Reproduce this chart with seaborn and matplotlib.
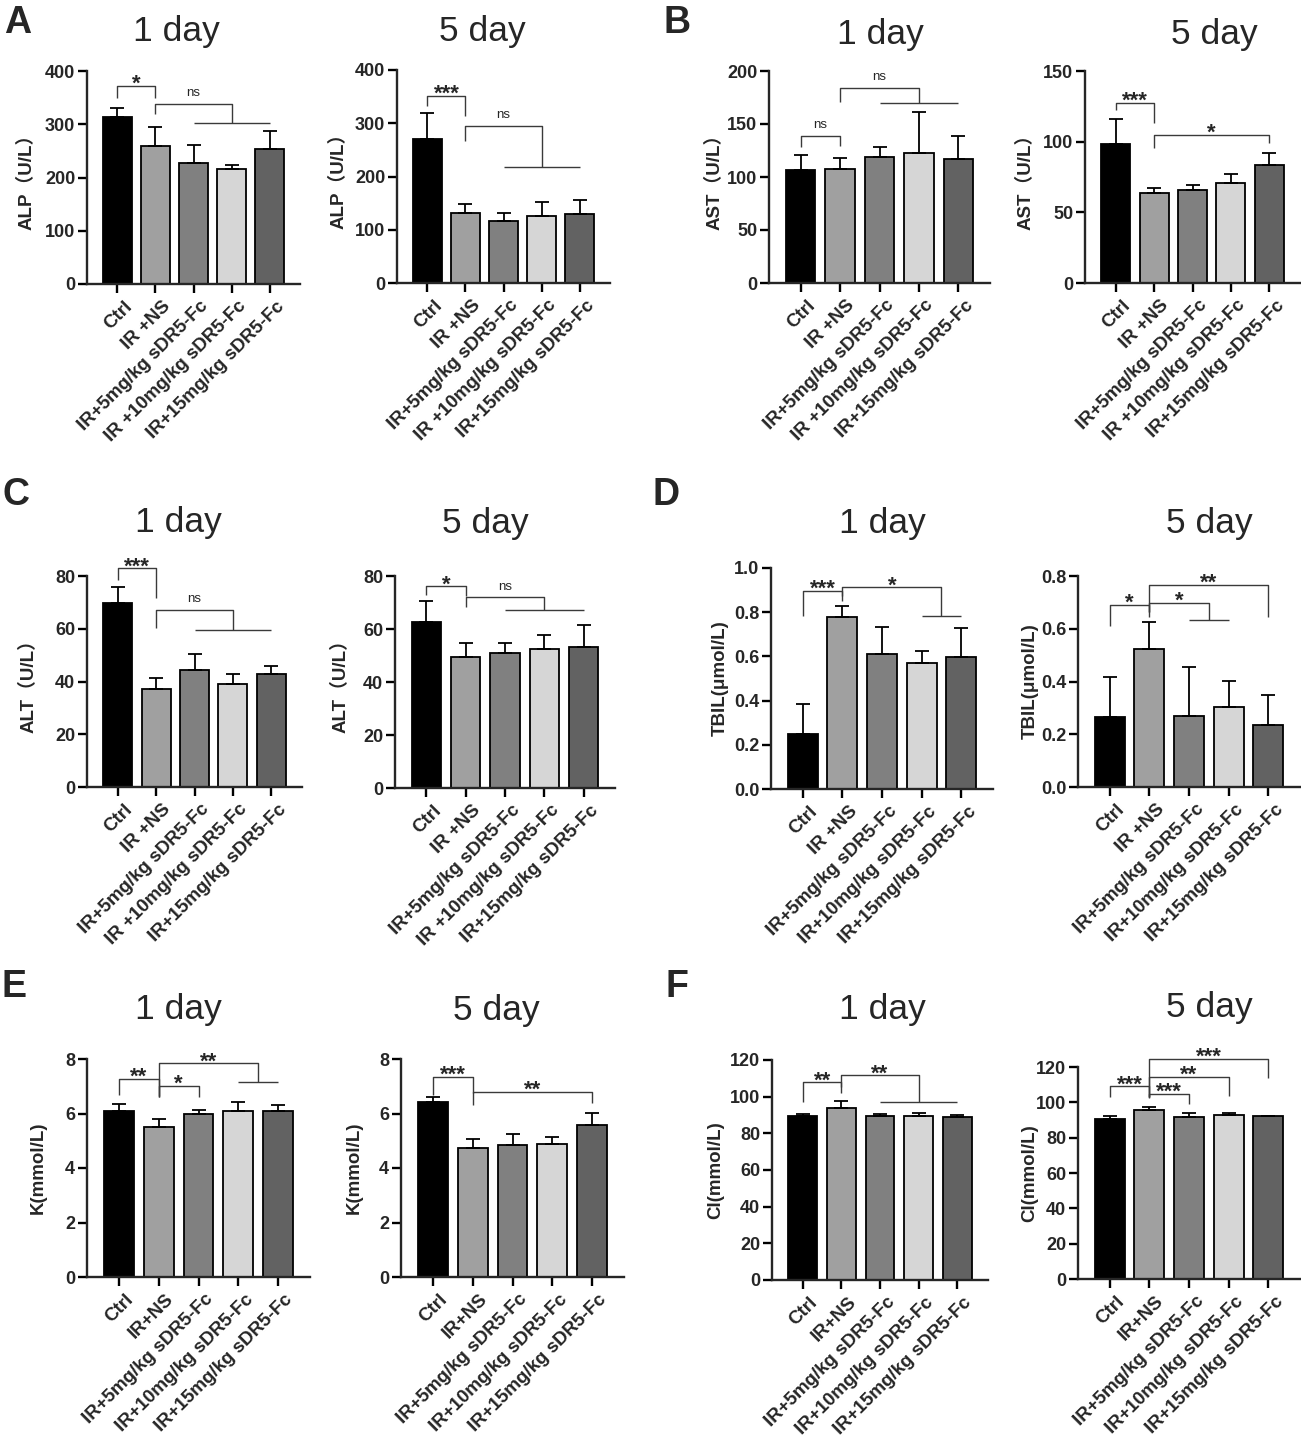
import matplotlib
matplotlib.use("Agg")
import matplotlib.pyplot as plt
import matplotlib.transforms as mtransforms
from matplotlib.ticker import FormatStrFormatter, MultipleLocator
import numpy as np
import seaborn as sns

W, H = 1301, 1436

# group names (three spellings are used in the figure)
LABELS_LIVER = ["Ctrl", "IR +NS", "IR+5mg/kg sDR5-Fc", "IR +10mg/kg sDR5-Fc", "IR+15mg/kg sDR5-Fc"]
LABELS_TBIL = ["Ctrl", "IR +NS", "IR+5mg/kg sDR5-Fc", "IR+10mg/kg sDR5-Fc", "IR+15mg/kg sDR5-Fc"]
LABELS_ION = ["Ctrl", "IR+NS", "IR+5mg/kg sDR5-Fc", "IR+10mg/kg sDR5-Fc", "IR+15mg/kg sDR5-Fc"]
BAR_COLORS = ["#000000", "#a0a0a0", "#808080", "#d6d6d6", "#626262"]

# mean and SD (upper error bar only)
ALP_1D_MEAN = [314, 260, 228, 216, 254]
ALP_1D_SD = [16, 34, 33, 8, 33]
ALP_5D_MEAN = [270, 132, 117, 126, 130]
ALP_5D_SD = [49, 16, 14, 26, 26]

AST_1D_MEAN = [107, 108, 119, 123, 117]
AST_1D_SD = [13.5, 10, 9.5, 38, 22]
AST_5D_MEAN = [98.5, 63.6, 65.5, 70.6, 83.4]
AST_5D_SD = [17.8, 3.5, 3.7, 6.6, 8.9]

ALT_1D_MEAN = [69.8, 37.2, 44.3, 38.9, 42.9]
ALT_1D_SD = [6.0, 4.2, 6.1, 3.8, 2.8]
ALT_5D_MEAN = [62.6, 49.6, 50.8, 52.5, 53.2]
ALT_5D_SD = [8.0, 5.2, 4.0, 5.1, 8.2]

TBIL_1D_MEAN = [0.25, 0.777, 0.612, 0.569, 0.596]
TBIL_1D_SD = [0.135, 0.053, 0.123, 0.055, 0.133]
TBIL_5D_MEAN = [0.266, 0.525, 0.27, 0.302, 0.236]
TBIL_5D_SD = [0.15, 0.101, 0.185, 0.10, 0.113]

K_1D_MEAN = [6.09, 5.49, 5.98, 6.08, 6.09]
K_1D_SD = [0.27, 0.32, 0.15, 0.34, 0.21]
K_5D_MEAN = [6.42, 4.73, 4.84, 4.87, 5.59]
K_5D_SD = [0.20, 0.35, 0.41, 0.28, 0.44]

CL_1D_MEAN = [89.5, 93.6, 89.5, 89.5, 89.1]
CL_1D_SD = [1.0, 3.9, 1.0, 1.4, 1.1]
CL_5D_MEAN = [90.7, 95.5, 91.8, 93.1, 92.0]
CL_5D_SD = [1.8, 1.9, 1.9, 0.8, 0.3]

# significance brackets: (x1, x2, y, left leg end, right leg end, text[, bar from, bar to])
ALP_1D_SIG = [(0, 1, 372, 350, 350, "*"), (1, 3, 338, 319, 302, "ns", 2, 4)]
ALP_5D_SIG = [(0, 1, 352, 333, 314, "***"), (1, 3, 295, 267, 217, "ns", 2, 4)]
AST_1D_SIG = [(0, 1, 139, 128.7, 129.4, "ns"), (1, 3, 184.3, 170.5, 169.5, "ns", 2, 4)]
AST_5D_SIG = [(0, 1, 127.6, 122.4, 113, "***"), (1, 4, 104.8, 95.8, 99.4, "*")]
ALT_1D_SIG = [(0, 1, 83, 78.3, 71.8, "***"), (1, 3, 67.1, 60.3, 59.7, "ns", 2, 4)]
ALT_5D_SIG = [(0, 1, 76.1, 73, 72.3, "*"), (1, 3, 71.9, 68.2, 67.3, "ns", 2, 4)]
TBIL_1D_SIG = [(0, 1, 0.897, 0.784, 0.849, "***"), (1, 3.5, 0.912, 0.872, 0.784, "*", 3, 4)]
TBIL_5D_SIG = [(0, 1, 0.69, 0.611, 0.645, "*"), (1, 2.5, 0.699, 0.664, 0.635, "*", 2, 3),
               (1, 4, 0.767, 0.664, 0.645, "**")]
K_1D_SIG = [(0, 1, 7.27, 6.68, 6.64, "**"), (1, 2, 7.02, 6.62, 6.62, "*"),
            (1, 3.5, 7.84, 6.62, 7.14, "**", 3, 4)]
K_5D_SIG = [(0, 1, 7.35, 6.68, 6.74, "***"), (1, 4, 6.80, 6.31, 6.37, "**")]
CL_1D_SIG = [(0, 1, 107.8, 97.3, 102.2, "**"), (1, 3, 111.6, 105.5, 97.1, "**", 2, 4)]
CL_5D_SIG = [(0, 1, 109.1, 103.1, 102.7, "***"), (1, 2, 105, 103, 99.3, "***"),
             (1, 3, 114.4, 103, 103.4, "**"), (1, 4, 124.5, 103, 114, "***")]

YLABELS = ["ALP（U/L）", "AST（U/L）", "ALT（U/L）", "TBIL(μmol/L)", "K(mmol/L)", "Cl(mmol/L)"]
YMAX = [(400, 400), (200, 150), (80, 80), (1.0, 0.8), (8, 8), (120, 120)]
YSTEP = [100, 50, 20, 0.2, 2, 20]
DAYS = ["1 day", "5 day"]
LETTERS = ["A", "B", "C", "D", "E", "F"]

panels = [
    (LABELS_LIVER, [(ALP_1D_MEAN, ALP_1D_SD, ALP_1D_SIG), (ALP_5D_MEAN, ALP_5D_SD, ALP_5D_SIG)]),
    (LABELS_LIVER, [(AST_1D_MEAN, AST_1D_SD, AST_1D_SIG), (AST_5D_MEAN, AST_5D_SD, AST_5D_SIG)]),
    (LABELS_LIVER, [(ALT_1D_MEAN, ALT_1D_SD, ALT_1D_SIG), (ALT_5D_MEAN, ALT_5D_SD, ALT_5D_SIG)]),
    (LABELS_TBIL, [(TBIL_1D_MEAN, TBIL_1D_SD, TBIL_1D_SIG), (TBIL_5D_MEAN, TBIL_5D_SD, TBIL_5D_SIG)]),
    (LABELS_ION, [(K_1D_MEAN, K_1D_SD, K_1D_SIG), (K_5D_MEAN, K_5D_SD, K_5D_SIG)]),
    (LABELS_ION, [(CL_1D_MEAN, CL_1D_SD, CL_1D_SIG), (CL_5D_MEAN, CL_5D_SD, CL_5D_SIG)]),
]

# layout in pixels: axes (left, right, top, bottom), title centre/baseline, y label offset
BOXES = [
    [(87, 300, 71, 284), (397, 610, 70, 283)],
    [(769, 990, 71, 283), (1085, 1300, 71, 283)],
    [(87, 302, 576, 787), (395, 615, 576, 788)],
    [(771, 993, 568, 789), (1078, 1300, 576, 787)],
    [(87, 310, 1059, 1277), (401, 624, 1059, 1277)],
    [(772, 988, 1060, 1280), (1078, 1300, 1067, 1279)],
]
TITLE_POS = [
    [(176, 41), (482, 41)], [(880, 44), (1214, 44)],
    [(178, 532), (485, 533)], [(882, 533), (1209, 533)],
    [(178, 1019), (496, 1020)], [(882, 1019), (1209, 1017)],
]
LETTER_POS = [(4, 33), (663, 33), (2, 505), (652, 505), (2, 997), (665, 997)]
YLAB_OFF = [(51, 49), (45, 50), (49, 45), (42, 39), (40, 38), (48, 40)]

FONT = ["Liberation Sans", "Noto Sans CJK SC", "DejaVu Sans"]
LINE_GRAY = "#3a3a3a"

sns.set_style("ticks")
plt.rcParams["font.family"] = FONT
plt.rcParams["axes.linewidth"] = 1.7

fig = plt.figure(figsize=(W / 100, H / 100), dpi=100)


def draw_bracket(ax, spec):
    x1, x2, y, yl, yr, txt = spec[:6]
    kw = dict(color=LINE_GRAY, lw=1.0, clip_on=False, solid_capstyle="butt")
    ax.plot([x1, x1, x2, x2], [yl, y, y, yr], **kw)
    if len(spec) > 6:
        ax.plot([spec[6], spec[7]], [yr, yr], **kw)
    if txt == "ns":
        ax.annotate(txt, ((x1 + x2) / 2, y), xytext=(0, 5.5), textcoords="offset points",
                    ha="center", va="baseline", fontsize=9.5, annotation_clip=False)
    else:
        ax.annotate(txt, ((x1 + x2) / 2, y), xytext=(0, -3), textcoords="offset points",
                    ha="center", va="baseline", fontsize=16, fontweight="bold",
                    annotation_clip=False)


for p, (labels, days) in enumerate(panels):
    lx, ly = LETTER_POS[p]
    fig.text(lx / W, 1 - ly / H, LETTERS[p], fontsize=27, fontweight="bold",
             ha="left", va="baseline")
    for d, (mean, sd, sig) in enumerate(days):
        left, right, top, bottom = BOXES[p][d]
        ax = fig.add_axes([left / W, 1 - bottom / H, (right - left) / W, (bottom - top) / H])
        sns.barplot(x=labels, y=mean, hue=labels, order=labels, hue_order=labels,
                    palette=BAR_COLORS, saturation=1, errorbar=None, legend=False,
                    width=0.75, edgecolor="black", linewidth=1.3, ax=ax)
        xs = np.arange(len(mean))
        ax.errorbar(xs, mean, yerr=[np.zeros(len(sd)), sd], fmt="none", ecolor="black",
                    elinewidth=1.3, capsize=5, capthick=1.3, zorder=3)
        for spec in sig:
            draw_bracket(ax, spec)

        ymax = YMAX[p][d]
        ax.set_ylim(0, ymax)
        ax.set_xlim(-0.8, 4.8)
        ax.yaxis.set_major_locator(MultipleLocator(YSTEP[p]))
        if p == 3:
            ax.yaxis.set_major_formatter(FormatStrFormatter("%.1f"))
        sns.despine(ax=ax)
        ax.tick_params(axis="both", length=6.5, width=1.7, color="black", pad=2)
        ax.tick_params(axis="y", labelsize=13)
        for t in ax.get_yticklabels():
            t.set_fontweight("bold")

        ax.set_xticks(xs)
        ax.set_xticklabels(labels, rotation=45, ha="right", va="top", rotation_mode="anchor",
                           fontsize=13.5, fontweight="bold")
        shift = mtransforms.ScaledTranslation(6 / 100, -2 / 100, fig.dpi_scale_trans)
        for t in ax.get_xticklabels():
            t.set_transform(t.get_transform() + shift)
        ax.set_xlabel("")

        ax.set_ylabel(YLABELS[p], fontsize=13.5, fontweight="bold")
        ax.yaxis.set_label_coords(-YLAB_OFF[p][d] / (right - left), 0.5)

        tx, ty = TITLE_POS[p][d]
        fig.text(tx / W, 1 - ty / H, DAYS[d], fontsize=25.5, ha="center", va="baseline")

fig.savefig("out.png", dpi=100)
